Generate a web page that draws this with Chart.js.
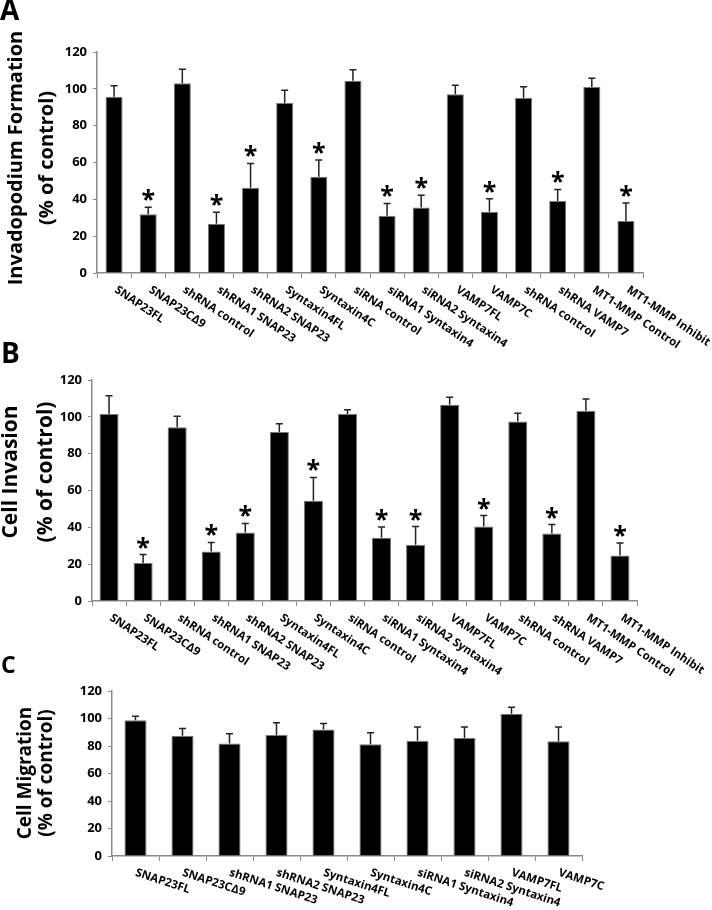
<!DOCTYPE html>
<html>
<head>
<meta charset="utf-8">
<script src="https://cdn.jsdelivr.net/npm/chart.js"></script>
<style>
  body { margin: 0; background: #fff; }
  #wrap { position: relative; width: 712px; height: 910px; }
  canvas { position: absolute; left: 0; }
</style>
</head>
<body>
<div id="wrap">
  <canvas id="chartA" width="712" height="350" style="top:0px"></canvas>
  <canvas id="chartB" width="712" height="370" style="top:340px"></canvas>
  <canvas id="chartC" width="712" height="260" style="top:650px"></canvas>
</div>
<script>
// categories for panels A and B
const labelsAB = ["SNAP23FL", "SNAP23CΔ9", "shRNA control", "shRNA1 SNAP23", "shRNA2 SNAP23",
  "Syntaxin4FL", "Syntaxin4C", "siRNA control", "siRNA1 Syntaxin4", "siRNA2 Syntaxin4",
  "VAMP7FL", "VAMP7C", "shRNA control", "shRNA VAMP7", "MT1-MMP Control", "MT1-MMP Inhibit"];
// categories for panel C
const labelsC = ["SNAP23FL", "SNAP23CΔ9", "shRNA1 SNAP23", "shRNA2 SNAP23", "Syntaxin4FL",
  "Syntaxin4C", "siRNA1 Syntaxin4", "siRNA2 Syntaxin4", "VAMP7FL", "VAMP7C"];

// A: invadopodium formation (% of control)
const invadoMean = [95.7, 31.9, 103, 26.8, 46.3, 92.3, 52.3, 104.4, 31.1, 35.5, 97, 33.3, 95, 39.1, 101, 28.2];
const invadoErr  = [6.0, 3.8, 7.7, 6.2, 13.2, 6.9, 9.0, 6.0, 6.7, 6.7, 5.0, 7.0, 6.1, 6.3, 4.7, 9.8];
// B: cell invasion (% of control)
const invasionMean = [101.5, 20.7, 94.3, 26.9, 37.2, 91.7, 54.4, 101.5, 34.3, 30.5, 106.6, 40.4, 97.5, 36.6, 103.3, 24.7];
const invasionErr  = [10.0, 4.5, 6.0, 4.9, 4.9, 4.6, 12.7, 2.4, 5.9, 9.9, 4.0, 6.0, 4.4, 4.9, 6.4, 6.8];
// significance marks (same groups in A and B)
const starsAB = [false, true, false, true, true, false, true, false, true, true, false, true, false, true, false, true];
// C: cell migration (% of control)
const migrationMean = [98.8, 87.5, 81.9, 88, 92, 81.2, 83.9, 85.8, 103.4, 83.4];
const migrationErr  = [2.9, 5.3, 7.0, 8.9, 4.4, 8.5, 9.9, 8.0, 4.8, 10.4];
const starsC = migrationMean.map(() => false);

const yTicks = [0, 20, 40, 60, 80, 100, 120];

const FONT = "'Open Sans', 'DejaVu Sans', sans-serif";
const AXIS_GREY = "#8a8a8a";

// draws error whiskers, asterisks, rotated category labels, y title and panel letter
const panelDecor = {
  id: "panelDecor",
  afterDatasetsDraw(chart) {
    const o = chart.options.plugins.panelDecor;
    const ctx = chart.ctx;
    const xs = chart.scales.x, ys = chart.scales.y;
    const meta = chart.getDatasetMeta(0);
    const mean = chart.data.datasets[0].data;

    ctx.save();
    meta.data.forEach((bar, i) => {
      const top = ys.getPixelForValue(mean[i] + o.err[i]);
      ctx.strokeStyle = "#222";
      ctx.lineWidth = 1.5;
      ctx.beginPath();
      ctx.moveTo(bar.x, bar.y);
      ctx.lineTo(bar.x, top);
      ctx.moveTo(bar.x - 3.5, top);
      ctx.lineTo(bar.x + 3.5, top);
      ctx.stroke();
      if (o.stars[i]) {
        ctx.fillStyle = "#000";
        ctx.font = "bold 25px " + FONT;
        ctx.textAlign = "center";
        ctx.textBaseline = "alphabetic";
        ctx.fillText("*", bar.x, top + 1);
      }
    });

    // category labels, rotated downwards to the right
    ctx.fillStyle = "#000";
    ctx.font = "bold 11.5px " + FONT;
    ctx.textAlign = "left";
    ctx.textBaseline = "top";
    chart.data.labels.forEach((lab, i) => {
      const x = xs.getPixelForValue(i);
      ctx.save();
      ctx.translate(x + o.labelDx, xs.top + o.labelDy);
      ctx.rotate(o.labelAngle * Math.PI / 180);
      ctx.fillText(lab, 0, 0);
      ctx.restore();
    });

    // y axis title, two lines
    ctx.font = "bold " + o.titleSize + "px " + FONT;
    ctx.textAlign = "center";
    ctx.textBaseline = "middle";
    o.title.forEach((line, k) => {
      ctx.save();
      ctx.translate(o.titleX[k], o.titleY);
      ctx.rotate(-Math.PI / 2);
      ctx.fillText(line, 0, 0);
      ctx.restore();
    });

    // panel letter
    ctx.font = "bold " + o.letterSize + "px " + FONT;
    ctx.textAlign = "left";
    ctx.textBaseline = "alphabetic";
    ctx.fillText(o.letter, o.letterX, o.letterY);
    ctx.restore();
  }
};

function makePanel(id, labels, mean, err, stars, box, decor) {
  new Chart(document.getElementById(id), {
    type: "bar",
    data: {
      labels: labels,
      datasets: [{
        data: mean,
        backgroundColor: "#000",
        borderColor: "#777",
        borderWidth: 1,
        barPercentage: decor.barPct,
        categoryPercentage: 1.0
      }]
    },
    options: {
      responsive: false,
      animation: false,
      devicePixelRatio: 1,
      layout: { padding: { top: box.top, right: box.right, bottom: 0, left: 0 } },
      plugins: {
        legend: { display: false },
        tooltip: { enabled: false },
        panelDecor: Object.assign({ err: err, stars: stars }, decor)
      },
      scales: {
        x: {
          ticks: { display: false },
          grid: { offset: true, drawOnChartArea: false, drawTicks: true, tickLength: 5, color: AXIS_GREY },
          border: { color: AXIS_GREY, width: 1.5 },
          afterFit: (s) => { s.height = box.xHeight; }
        },
        y: {
          min: 0,
          max: 120,
          afterBuildTicks: (s) => { s.ticks = yTicks.map(v => ({ value: v })); },
          ticks: { color: "#000", font: { family: FONT, size: decor.tickSize, weight: "bold" }, padding: 6 },
          grid: { drawOnChartArea: false, drawTicks: true, tickLength: 4, color: AXIS_GREY },
          border: { color: AXIS_GREY, width: 1.5 },
          afterFit: (s) => { s.width = box.left; }
        }
      }
    },
    plugins: [panelDecor]
  });
}

makePanel("chartA", labelsAB, invadoMean, invadoErr, starsAB,
  { top: 52, right: 69, left: 97, xHeight: 77 },
  { barPct: 0.5, labelAngle: 34, labelDx: 5, labelDy: 11, tickSize: 13,
    title: ["Invadopodium Formation", "(% of control)"], titleSize: 20, titleX: [16, 47], titleY: 158,
    letter: "A", letterSize: 28, letterX: 0, letterY: 20 });

makePanel("chartB", labelsAB, invasionMean, invasionErr, starsAB,
  { top: 40, right: 75, left: 92, xHeight: 109 },
  { barPct: 0.56, labelAngle: 34, labelDx: 5, labelDy: 11, tickSize: 13,
    title: ["Cell Invasion", "(% of control)"], titleSize: 21, titleX: [11, 46], titleY: 132,
    letter: "B", letterSize: 28, letterX: 1, letterY: 23 });

makePanel("chartC", labelsC, migrationMean, migrationErr, starsC,
  { top: 41, right: 130, left: 112, xHeight: 54 },
  { barPct: 0.47, labelAngle: 18, labelDx: 2, labelDy: 11, tickSize: 13,
    title: ["Cell Migration", "(% of control)"], titleSize: 19, titleX: [26, 47], titleY: 123,
    letter: "C", letterSize: 23, letterX: 1, letterY: 23 });
</script>
</body>
</html>
